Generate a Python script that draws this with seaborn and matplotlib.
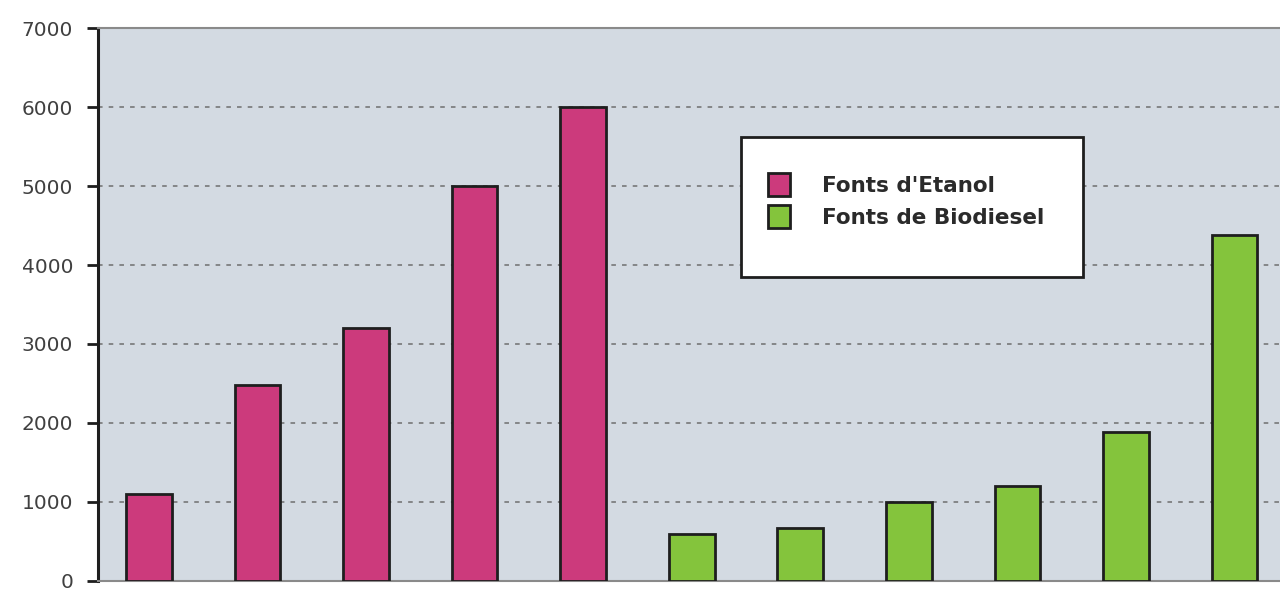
import matplotlib
matplotlib.use("Agg")
import matplotlib.pyplot as plt
from matplotlib.patches import Rectangle
import seaborn as sns
import pandas as pd

# Ethanol and biodiesel source volumes
etanol_values = [1100, 2480, 3200, 5000, 6000]
biodiesel_values = [600, 670, 1000, 1200, 1880, 4380]
series_labels = ["Fonts d'Etanol", "Fonts de Biodiesel"]
y_ticks = [0, 1000, 2000, 3000, 4000, 5000, 6000, 7000]

values = etanol_values + biodiesel_values
series = [series_labels[0]] * len(etanol_values) + [series_labels[1]] * len(biodiesel_values)
df = pd.DataFrame({
    "pos": [str(i) for i in range(len(values))],
    "valor": values,
    "serie": series,
})

sns.set_theme(style="white")
plt.rcParams["font.family"] = ["DejaVu Sans"]

fig = plt.figure(figsize=(12.8, 5.9), dpi=100)
ax = fig.add_axes([0.0766, 0.0153, 0.9234, 0.9372])
ax.set_facecolor("#d3dae2")

palette = {series_labels[0]: "#cc3a7c", series_labels[1]: "#84c43c"}
sns.barplot(data=df, x="pos", y="valor", hue="serie", palette=palette,
            dodge=False, width=0.42, edgecolor="#1e1e1e", linewidth=2.0,
            saturation=1, ax=ax, zorder=3)

ax.set_ylim(0, 7000)
ax.set_xlim(-0.47, 10.42)
ax.set_yticks(y_ticks)
ax.set_yticklabels([str(t) for t in y_ticks], fontsize=14.5, color="#404040")
ax.set_xticks([])
ax.set_xlabel("")
ax.set_ylabel("")

for t in y_ticks[1:-1]:
    ax.axhline(t, color="#6e6e6e", linestyle=(0, (3, 4)), linewidth=1.1, zorder=1)

ax.tick_params(axis="y", direction="out", length=8, width=2, color="#1e1e1e", pad=10, left=True)
for side in ["top", "right", "bottom"]:
    ax.spines[side].set_color("#8a8a8a")
    ax.spines[side].set_linewidth(1.5)
ax.spines["right"].set_visible(False)
ax.spines["left"].set_color("#1e1e1e")
ax.spines["left"].set_linewidth(2.2)

# Legend box drawn as its own frame, entries placed inside it
ax.add_patch(Rectangle((0.544, 0.55), 0.289, 0.253, transform=ax.transAxes,
                       facecolor="white", edgecolor="#1e1e1e", linewidth=2.0,
                       zorder=6))
handles, labels = ax.get_legend_handles_labels()
leg = ax.legend(handles, labels, loc="upper left",
                bbox_to_anchor=(0.567, 0.738), frameon=False,
                prop={"weight": "bold", "size": 15.5}, borderpad=0,
                handlelength=1.0, handleheight=1.25, handletextpad=1.5,
                labelspacing=0.45, borderaxespad=0)
leg.set_zorder(7)
for txt in leg.get_texts():
    txt.set_color("#2a2a2a")

fig.savefig("out.png", dpi=100, facecolor="white")
